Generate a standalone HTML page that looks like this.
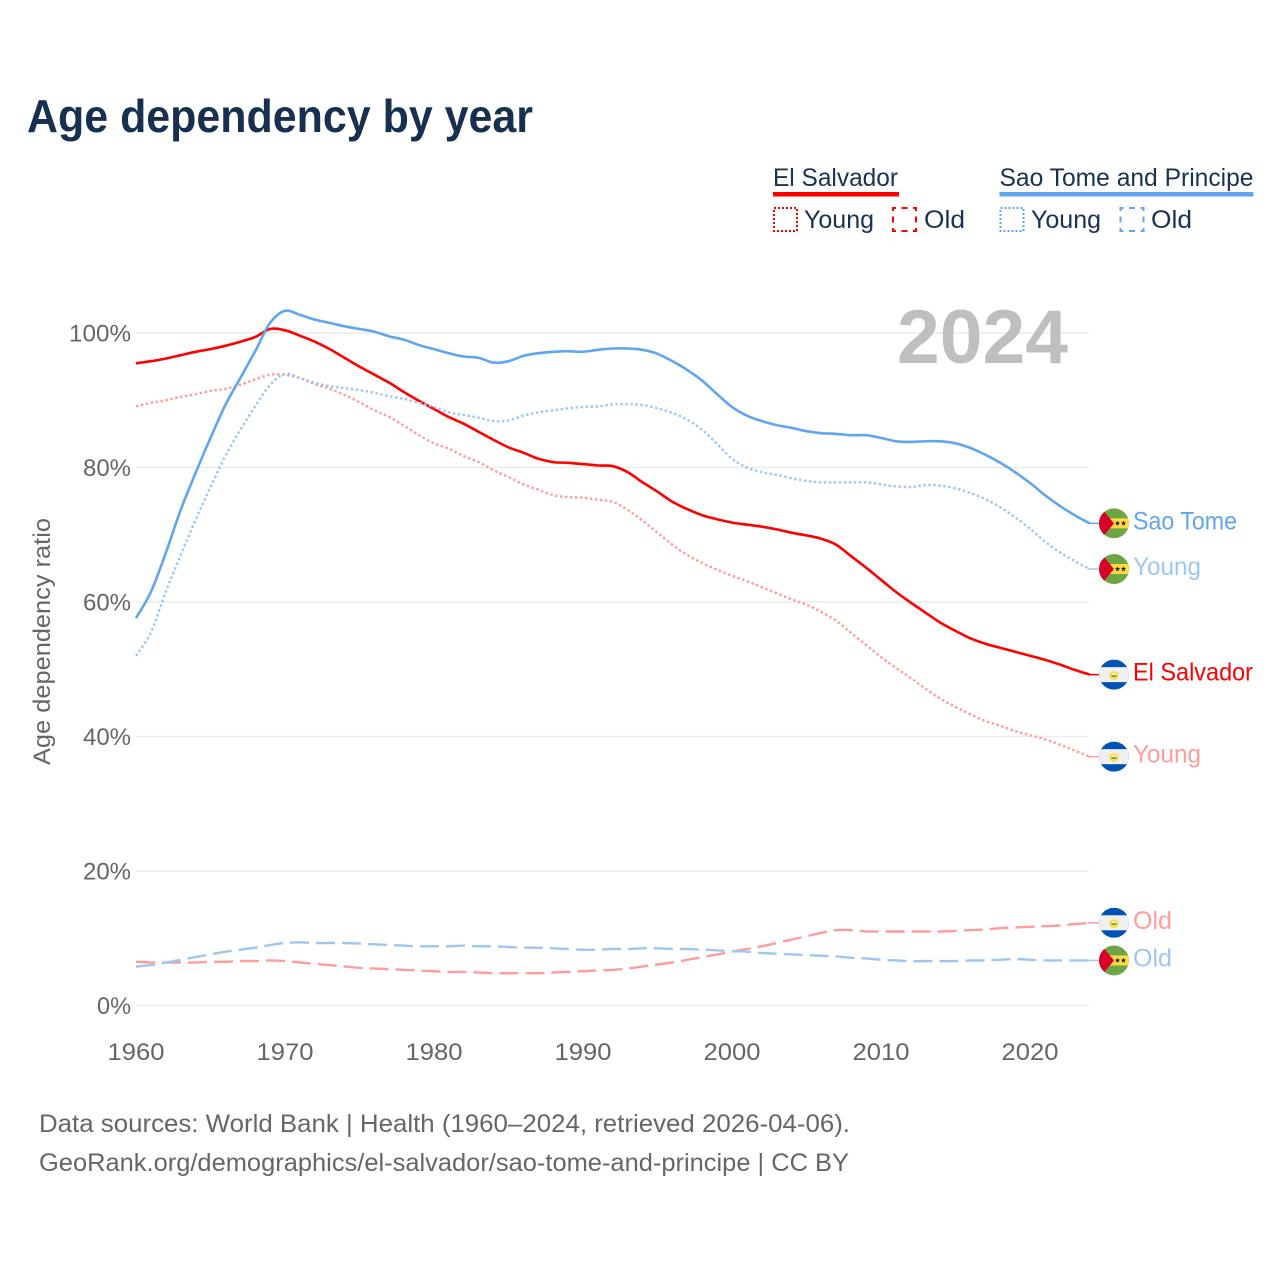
<!DOCTYPE html>
<html lang="en">
<head>
<meta charset="utf-8">
<title>Age dependency by year</title>
<style>
html,body{margin:0;padding:0;background:#fff;width:1280px;height:1280px;overflow:hidden}
svg{display:block;font-family:"Liberation Sans",Arial,sans-serif}
</style>
</head>
<body>
<svg id="chart" xmlns="http://www.w3.org/2000/svg" width="1280" height="1280" viewBox="0 0 1280 1280">
  <text x="27" y="132" font-size="46" font-weight="700" fill="#17304f" textLength="506" lengthAdjust="spacingAndGlyphs">Age dependency by year</text>

  <g>
    <g>
      <text x="773" y="186" font-size="25" fill="#1a3152" textLength="125" lengthAdjust="spacingAndGlyphs">El Salvador</text>
      <rect x="773" y="192" width="126" height="4.5" fill="#ff0000"/>
      <rect x="774" y="208" width="23" height="23" fill="none" stroke="#ff0000" stroke-width="2" stroke-dasharray="2 2"/>
      <text x="804" y="228" font-size="25" fill="#1a3152" textLength="70" lengthAdjust="spacingAndGlyphs">Young</text>
      <rect x="893" y="208" width="23" height="23" fill="none" stroke="#ff0000" stroke-width="2" stroke-dasharray="6 5.5" stroke-dashoffset="3"/>
      <text x="924" y="228" font-size="25" fill="#1a3152" textLength="41" lengthAdjust="spacingAndGlyphs">Old</text>
    </g>
    <g>
      <text x="999.5" y="186" font-size="25" fill="#1a3152" textLength="254" lengthAdjust="spacingAndGlyphs">Sao Tome and Principe</text>
      <rect x="999.5" y="192" width="254" height="4.5" fill="#61a5ee"/>
      <rect x="1000.5" y="208" width="23" height="23" fill="none" stroke="#61a5ee" stroke-width="2" stroke-dasharray="2 2"/>
      <text x="1031" y="228" font-size="25" fill="#1a3152" textLength="70" lengthAdjust="spacingAndGlyphs">Young</text>
      <rect x="1120.5" y="208" width="23" height="23" fill="none" stroke="#61a5ee" stroke-width="2" stroke-dasharray="6 5.5" stroke-dashoffset="3"/>
      <text x="1151" y="228" font-size="25" fill="#1a3152" textLength="41" lengthAdjust="spacingAndGlyphs">Old</text>
    </g>
  </g>

  <g id="grid"></g>
  <text x="897" y="363" font-size="76" font-weight="700" fill="#bfbfbf" textLength="171" lengthAdjust="spacingAndGlyphs">2024</text>
  <g id="yticks"></g>
  <g id="xticks"></g>
  <text transform="translate(50,641.5) rotate(-90)" text-anchor="middle" font-size="24" fill="#666666" textLength="247" lengthAdjust="spacingAndGlyphs">Age dependency ratio</text>
  <g id="series"></g>
  <g id="endmarks"></g>

  <text x="39" y="1132" font-size="25" fill="#666666" textLength="811" lengthAdjust="spacingAndGlyphs">Data sources: World Bank | Health (1960–2024, retrieved 2026-04-06).</text>
  <text x="39" y="1171" font-size="25" fill="#666666" textLength="810" lengthAdjust="spacingAndGlyphs">GeoRank.org/demographics/el-salvador/sao-tome-and-principe | CC BY</text>
</svg>
<script>
const startYear = 1960;
const xTickYears = [1960, 1970, 1980, 1990, 2000, 2010, 2020];
const yTickValues = [0, 20, 40, 60, 80, 100];

const elSalvadorYoung = [89.1,89.6,90,90.5,90.9,91.4,91.7,92.3,93.1,93.8,93.8,93.3,92.4,91.7,90.8,89.7,88.5,87.5,86.2,84.8,83.6,82.8,81.7,80.8,79.6,78.6,77.5,76.7,75.9,75.6,75.5,75.2,74.9,73.7,72.1,70.3,68.5,67,65.8,64.8,63.9,63.1,62.2,61.3,60.4,59.6,58.5,57.2,55.4,53.6,51.8,50.2,48.7,47.1,45.6,44.4,43.3,42.3,41.6,40.8,40.2,39.6,38.8,37.9,37];
const elSalvadorOld = [6.5,6.4,6.4,6.4,6.4,6.5,6.5,6.6,6.6,6.7,6.6,6.4,6.2,6,5.8,5.6,5.5,5.4,5.3,5.2,5.1,5,5,4.9,4.8,4.8,4.8,4.8,4.9,5,5.1,5.2,5.3,5.5,5.8,6.1,6.4,6.8,7.2,7.6,8,8.4,8.8,9.3,9.8,10.3,10.8,11.2,11.2,11,11,11,11,11,11,11.1,11.2,11.3,11.5,11.6,11.7,11.8,11.9,12.1,12.3];
const elSalvadorTotal = [95.5,95.8,96.2,96.7,97.2,97.6,98.1,98.7,99.4,100.6,100.4,99.6,98.7,97.6,96.3,95,93.8,92.6,91.2,89.9,88.7,87.5,86.5,85.3,84.1,83,82.2,81.3,80.8,80.7,80.5,80.3,80.2,79.3,77.8,76.4,74.9,73.8,72.9,72.3,71.8,71.5,71.2,70.8,70.3,69.9,69.4,68.5,66.8,65.1,63.3,61.5,59.9,58.4,56.9,55.7,54.6,53.8,53.2,52.6,52,51.4,50.7,49.9,49.2];

const saoTomeYoung = [52,55.5,61.5,67,72.2,77.1,81.7,85.6,89.1,92.3,93.9,93.3,92.6,92.1,91.8,91.5,91.1,90.6,90.2,89.6,89,88.2,87.8,87.4,86.9,87,87.7,88.2,88.5,88.8,89,89.1,89.4,89.4,89.3,88.8,88.1,87.1,85.6,83.5,81.3,80,79.3,78.9,78.4,78,77.8,77.8,77.8,77.8,77.5,77.2,77.1,77.4,77.3,76.9,76.2,75.3,74.1,72.6,70.9,69,67.4,66.1,64.9];
const saoTomeOld = [5.8,6,6.4,6.8,7.2,7.6,8,8.3,8.6,9,9.3,9.4,9.3,9.3,9.3,9.2,9.1,9,8.9,8.8,8.8,8.8,8.9,8.8,8.8,8.7,8.6,8.6,8.5,8.4,8.3,8.3,8.4,8.4,8.5,8.5,8.4,8.4,8.3,8.2,8.1,8,7.8,7.7,7.6,7.5,7.4,7.3,7.1,7,6.8,6.7,6.6,6.6,6.6,6.6,6.7,6.7,6.8,6.9,6.8,6.7,6.7,6.7,6.7];
const saoTomeTotal = [57.6,61.5,67.3,73.7,79.2,84.4,89.3,93.3,97.3,101.5,103.3,102.7,102,101.5,101,100.6,100.2,99.5,99,98.2,97.6,97,96.5,96.3,95.6,95.8,96.6,97,97.2,97.3,97.2,97.5,97.7,97.7,97.5,96.9,95.8,94.5,92.9,90.9,89,87.7,86.9,86.3,85.9,85.4,85.1,85,84.8,84.8,84.4,83.9,83.8,83.9,83.9,83.6,82.9,81.9,80.7,79.3,77.7,75.9,74.3,72.9,71.7];

const NS = 'http://www.w3.org/2000/svg';
const xScale = year => 136 + (year - 1960) * 14.9;
const yScale = value => 1005.5 - value * 6.725;

function make(tag, attrs, parent, text) {
  const el = document.createElementNS(NS, tag);
  for (const k in attrs) el.setAttribute(k, attrs[k]);
  if (text !== undefined) el.textContent = text;
  parent.appendChild(el);
  return el;
}

function smoothPath(pts) {
  let d = 'M' + pts[0][0].toFixed(1) + ' ' + pts[0][1].toFixed(1);
  for (let i = 0; i < pts.length - 1; i++) {
    const p0 = pts[Math.max(i - 1, 0)], p1 = pts[i], p2 = pts[i + 1], p3 = pts[Math.min(i + 2, pts.length - 1)];
    const c1x = p1[0] + (p2[0] - p0[0]) / 6, c1y = p1[1] + (p2[1] - p0[1]) / 6;
    const c2x = p2[0] - (p3[0] - p1[0]) / 6, c2y = p2[1] - (p3[1] - p1[1]) / 6;
    d += 'C' + c1x.toFixed(1) + ' ' + c1y.toFixed(1) + ' ' + c2x.toFixed(1) + ' ' + c2y.toFixed(1) + ' ' + p2[0].toFixed(1) + ' ' + p2[1].toFixed(1);
  }
  return d;
}

const grid = document.getElementById('grid');
const yticks = document.getElementById('yticks');
const xticks = document.getElementById('xticks');
const seriesG = document.getElementById('series');
const endG = document.getElementById('endmarks');

yTickValues.forEach(v => {
  const line = make('line', {x1: 136, x2: 1089, y1: yScale(v), y2: yScale(v), stroke: '#ebebeb', 'stroke-width': 1.5}, grid);
  
  
  const label = v + '%';
  const t = make('text', {x: 131, y: yScale(v) + 8.5, 'text-anchor': 'end', 'font-size': 24, fill: '#666666', textLength: v === 100 ? 62 : 48, lengthAdjust: 'spacingAndGlyphs'}, yticks, label);
  if (v === 0) t.setAttribute('textLength', 34);
  
  
});

xTickYears.forEach(y => {
  const t = make('text', {x: xScale(y), y: 1060, 'text-anchor': 'middle', 'font-size': 24, fill: '#666666', textLength: 57, lengthAdjust: 'spacingAndGlyphs'}, xticks, String(y));
  
  
});

const seriesDefs = [
  {key: 'el-salvador-young', values: elSalvadorYoung, color: '#ff9c9c', dash: '2.5 2.5', width: 2.4, label: 'Young', flag: 'sv', textWidth: 68},
  {key: 'el-salvador-old', values: elSalvadorOld, color: '#ff9c9c', dash: '19 7', width: 2.4, label: 'Old', flag: 'sv', textWidth: 39},
  {key: 'el-salvador-total', values: elSalvadorTotal, color: '#ff0000', dash: '', width: 2.6, label: 'El Salvador', flag: 'sv', textWidth: 120},
  {key: 'sao-tome-young', values: saoTomeYoung, color: '#9fc6f0', dash: '2.5 2.5', width: 2.4, label: 'Young', flag: 'st', textWidth: 68},
  {key: 'sao-tome-old', values: saoTomeOld, color: '#9fc6f0', dash: '19 7', width: 2.4, label: 'Old', flag: 'st', textWidth: 39},
  {key: 'sao-tome-total', values: saoTomeTotal, color: '#61a5ee', dash: '', width: 2.6, label: 'Sao Tome', flag: 'st', textWidth: 104}
];

function starPoints(cx, cy, r) {
  const out = [];
  for (let i = 0; i < 10; i++) {
    const a = -Math.PI / 2 + i * Math.PI / 5;
    const rad = i % 2 ? r * 0.45 : r;
    out.push((cx + rad * Math.cos(a)).toFixed(2) + ',' + (cy + rad * Math.sin(a)).toFixed(2));
  }
  return out.join(' ');
}

function drawFlag(kind, cx, cy, parent, name) {
  const g = make('g', {}, parent);
  
  
  const clipId = 'clip-' + name;
  const clip = make('clipPath', {id: clipId}, g);
  make('circle', {cx: cx, cy: cy, r: 15}, clip);
  const inner = make('g', {'clip-path': 'url(#' + clipId + ')'}, g);
  if (kind === 'sv') {
    make('rect', {x: cx - 15, y: cy - 15, width: 30, height: 30, fill: '#0052b4'}, inner);
    make('rect', {x: cx - 15, y: cy - 7.5, width: 30, height: 15, fill: '#f0f0f0'}, inner);
    make('path', {d: 'M' + (cx - 4.5) + ' ' + (cy - 3.5) + 'A4.7 4.7 0 0 0 ' + (cx + 4.5) + ' ' + (cy - 3.5) + 'L' + (cx + 4.5) + ' ' + (cy + 0) + 'A4.7 5 0 0 1 ' + (cx - 4.5) + ' ' + cy + 'Z', fill: '#ffda44'}, inner);
    make('circle', {cx: cx, cy: cy + 0.8, r: 4.4, fill: '#ffda44'}, inner);
    make('rect', {x: cx - 2.6, y: cy - 1.2, width: 5.2, height: 2.6, fill: '#f0f0f0'}, inner);
    make('rect', {x: cx - 2.6, y: cy + 0.4, width: 5.2, height: 1.8, fill: '#6da544'}, inner);
  } else {
    make('rect', {x: cx - 15, y: cy - 15, width: 30, height: 30, fill: '#6da544'}, inner);
    make('rect', {x: cx - 15, y: cy - 5, width: 30, height: 10, fill: '#ffda44'}, inner);
    make('polygon', {points: (cx - 15) + ',' + (cy - 15) + ' ' + (cx - 10) + ',' + (cy - 12) + ' ' + cx + ',' + cy + ' ' + (cx - 10) + ',' + (cy + 12) + ' ' + (cx - 15) + ',' + (cy + 15), fill: '#d80027'}, inner);
    make('polygon', {points: starPoints(cx + 3.5, cy, 2.7), fill: '#222'}, inner);
    make('polygon', {points: starPoints(cx + 9.5, cy, 2.7), fill: '#222'}, inner);
  }
}

seriesDefs.forEach(s => {
  const pts = s.values.map((v, i) => [xScale(startYear + i), yScale(v)]);
  const attrs = {d: smoothPath(pts), fill: 'none', stroke: s.color, 'stroke-width': s.width, 'stroke-linejoin': 'round'};
  if (s.dash) attrs['stroke-dasharray'] = s.dash;
  const line = make('path', attrs, seriesG);
  
  

  const last = s.values[s.values.length - 1];
  const lastX = xScale(startYear + s.values.length - 1);
  const ly = yScale(last);
  const leader = make('line', {x1: lastX - 2, x2: 1100, y1: ly, y2: ly, stroke: s.color, 'stroke-width': 1.5}, endG);
  
  
  drawFlag(s.flag, 1114, ly, endG, 'flag-' + s.key);
  const t = make('text', {x: 1133, y: ly + 6, 'font-size': 25, fill: s.color, textLength: s.textWidth, lengthAdjust: 'spacingAndGlyphs'}, endG, s.label);
  
  
});
</script>
</body>
</html>
